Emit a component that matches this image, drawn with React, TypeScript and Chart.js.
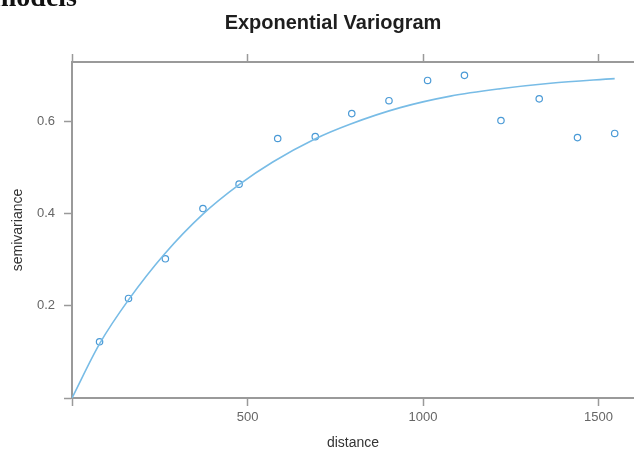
import React, { useEffect, useRef } from "react";
import { Chart, registerables } from "chart.js";

Chart.register(...registerables);

// Empirical semivariogram points
const distance = [78.5, 161, 266, 373, 476, 586, 693, 797, 903, 1013, 1118, 1222, 1331, 1440, 1546];
const gamma = [0.122, 0.216, 0.302, 0.411, 0.464, 0.563, 0.567, 0.617, 0.645, 0.689, 0.7, 0.602, 0.649, 0.565, 0.574];

// Fitted exponential model line
const curveX = [0, 78, 163, 263, 373, 476, 572, 692, 792, 935, 1078, 1220, 1363, 1546];
const curveY = [0, 0.117, 0.215, 0.312, 0.399, 0.463, 0.512, 0.562, 0.594, 0.63, 0.655, 0.671, 0.683, 0.693];

const xTicks = [0, 500, 1000, 1500];
const yTicks = [0, 0.2, 0.4, 0.6];

const chartTitle = "Exponential Variogram";
const xTitle = "distance";
const yTitle = "semivariance";

const AXIS = "#9a9a9a";
const SANS = "'Liberation Sans', Arial, sans-serif";

const titlePlugin = {
  id: "customTitle",
  afterDraw(chart: any) {
    const ctx = chart.ctx;
    ctx.save();
    ctx.font = `bold 20px ${SANS}`;
    ctx.fillStyle = "#1e1e1e";
    ctx.textAlign = "center";
    ctx.textBaseline = "alphabetic";
    ctx.fillText(chartTitle, 333, 29);
    ctx.restore();
  },
};

export default function App() {
  const ref = useRef<HTMLCanvasElement | null>(null);

  useEffect(() => {
    document.body.style.margin = "0";
    const canvas = ref.current;
    if (!canvas) return;
    const tickFont = { size: 13, family: SANS, lineHeight: 1.2 };
    const grid = {
      drawOnChartArea: false,
      drawTicks: true,
      tickLength: 8,
      color: AXIS,
      tickWidth: 1.5,
    };
    const border = { display: true, color: AXIS, width: 2 };
    const chart = new Chart(canvas, {
      type: "scatter",
      data: {
        datasets: [
          {
            type: "line",
            label: "model",
            data: curveX.map((x, i) => ({ x, y: curveY[i] })),
            borderColor: "#78bce6",
            borderWidth: 1.6,
            pointRadius: 0,
            fill: false,
            cubicInterpolationMode: "monotone",
            xAxisID: "x",
            yAxisID: "y",
          } as any,
          {
            type: "scatter",
            label: "semivariance",
            data: distance.map((x, i) => ({ x, y: gamma[i] })),
            borderColor: "#4a9ad6",
            backgroundColor: "rgba(0,0,0,0)",
            borderWidth: 1.2,
            pointRadius: 3.2,
            pointStyle: "circle",
            xAxisID: "x",
            yAxisID: "y",
          } as any,
        ],
      },
      options: {
        responsive: false,
        animation: false,
        devicePixelRatio: 1,
        layout: { autoPadding: false, padding: { top: 42, left: 0, right: 0, bottom: 0 } },
        plugins: {
          legend: { display: false },
          tooltip: { enabled: false },
          title: { display: false },
        },
        scales: {
          x: {
            type: "linear",
            position: "bottom",
            min: 0,
            max: 1601,
            afterBuildTicks: (s: any) => {
              s.ticks = xTicks.map((v) => ({ value: v }));
            },
            afterFit: (s: any) => {
              s.height = 52;
            },
            grid,
            border,
            ticks: {
              color: "#666",
              font: tickFont,
              padding: 4,
              maxRotation: 0,
              autoSkip: false,
              callback: (v: any) => (v === 0 ? "" : String(v)),
            },
            title: {
              display: true,
              text: xTitle,
              color: "#333",
              font: { size: 14, family: SANS, lineHeight: 1 },
              padding: { top: 0, bottom: 0 },
            },
          },
          xTop: {
            type: "linear",
            position: "top",
            min: 0,
            max: 1601,
            afterBuildTicks: (s: any) => {
              s.ticks = xTicks.map((v) => ({ value: v }));
            },
            afterFit: (s: any) => {
              s.height = 20;
            },
            grid,
            border,
            ticks: { display: false },
          },
          y: {
            type: "linear",
            position: "left",
            min: 0,
            max: 0.729,
            afterBuildTicks: (s: any) => {
              s.ticks = yTicks.map((v) => ({ value: v }));
            },
            afterFit: (s: any) => {
              s.width = 72;
            },
            grid,
            border,
            ticks: {
              color: "#666",
              font: tickFont,
              padding: 9,
              autoSkip: false,
              callback: (v: any) => (v === 0 ? "" : Number(v).toFixed(1)),
            },
            title: {
              display: true,
              text: yTitle,
              color: "#333",
              font: { size: 14, family: SANS, lineHeight: 1 },
              padding: { top: 11, bottom: 0 },
            },
          },
        },
      } as any,
      plugins: [titlePlugin],
    });
    return () => chart.destroy();
  }, []);

  return (
    <div style={{ position: "relative", width: 634, height: 450, overflow: "hidden", background: "#fff" }}>
      <canvas ref={ref} width={634} height={450} style={{ display: "block" }} />
      <div
        style={{
          position: "absolute",
          left: -7,
          top: -17,
          fontFamily: "'Liberation Serif', 'Times New Roman', serif",
          fontWeight: "bold",
          fontSize: 28,
          lineHeight: "28px",
          color: "#111",
          whiteSpace: "nowrap",
        }}
      >
        models
      </div>
    </div>
  );
}
